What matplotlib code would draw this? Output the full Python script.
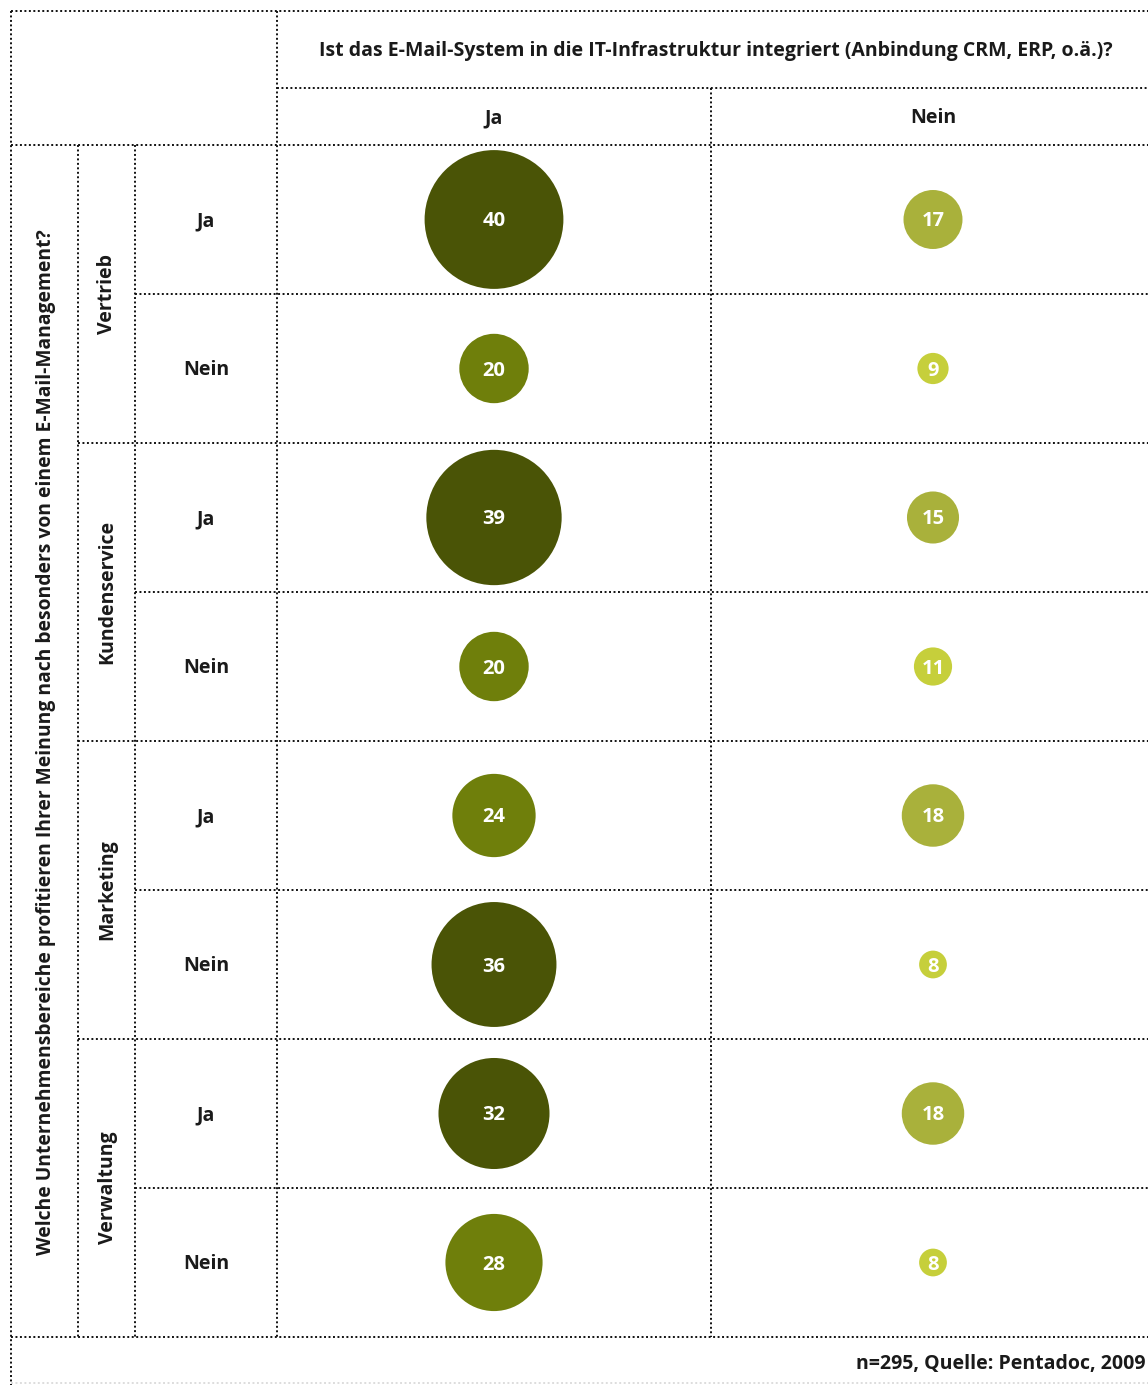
import matplotlib
matplotlib.use("Agg")
import matplotlib.pyplot as plt
from matplotlib.colors import ListedColormap, BoundaryNorm

# data
question_top = "Ist das E-Mail-System in die IT-Infrastruktur integriert (Anbindung CRM, ERP, o.ä.)?"
question_left = "Welche Unternehmensbereiche profitieren Ihrer Meinung nach besonders von einem E-Mail-Management?"
col_labels = ["Ja", "Nein"]
groups = ["Vertrieb", "Kundenservice", "Marketing", "Verwaltung"]
row_labels = ["Ja", "Nein"] * 4
vals_ja = [40, 20, 39, 20, 24, 36, 32, 28]
vals_nein = [17, 9, 15, 11, 18, 8, 18, 8]
footer = "n=295, Quelle: Pentadoc, 2009"

# layout in pixels
W, H = 1148, 1385
x_left, x_grp, x_row, x_c1, x_c2, x_right = 11, 78, 135, 277, 711, 1148
y_top, y_sub, y_head = 11, 88, 145
row_h = 149
y_bottom = y_head + 8 * row_h
col_x = [494, 933]

plt.rcParams['font.family'] = ['Open Sans', 'DejaVu Sans']
fig = plt.figure(figsize=(W / 100, H / 100), dpi=100)
ax = fig.add_axes([0, 0, 1, 1])
ax.set_xlim(0, W)
ax.set_ylim(H, 0)
ax.axis('off')

line_kw = dict(color='#111111', lw=1.4, linestyle=(0, (1, 1.3)), zorder=1)

def hline(y, x0, x1, **kw):
    k = dict(line_kw); k.update(kw)
    ax.plot([x0, x1], [y, y], **k)

def vline(x, y0, y1, **kw):
    k = dict(line_kw); k.update(kw)
    ax.plot([x, x], [y0, y1], **k)

# grid
hline(y_top, x_left, x_right)
hline(y_sub, x_c1, x_right)
hline(y_head, x_left, x_right)
for i in range(1, 8):
    y = y_head + i * row_h
    hline(y, x_grp if i % 2 == 0 else x_row, x_right)
hline(y_bottom, x_left, x_right)
hline(H - 2, x_left, x_right, color='#dddddd')
vline(x_left, y_top, H)
vline(x_grp, y_head, y_bottom)
vline(x_row, y_head, y_bottom)
vline(x_c1, y_top, y_bottom)
vline(x_c2, y_sub, y_bottom)

tkw = dict(fontweight='bold', color='#1a1a1a')

# header texts
ax.text(716, 51, question_top, ha='center', va='center', fontsize=14, **tkw)
for cx, lab in zip(col_x, col_labels):
    ax.text(cx, 118, lab, ha='center', va='center', fontsize=14, **tkw)

ax.text(46, 742, question_left, ha='center', va='center',
        rotation=90, fontsize=13.9, **tkw)
for g, name in enumerate(groups):
    ax.text((x_grp + x_row) / 2 + 1, y_head + (2 * g + 1) * row_h, name, ha='center', va='center',
            rotation=90, fontsize=14, **tkw)

row_y = [y_head + (i + 0.5) * row_h for i in range(8)]
for y, lab in zip(row_y, row_labels):
    ax.text((x_row + x_c1) / 2, y + 1.5, lab, ha='center', va='center', fontsize=14, **tkw)

# bubbles: diameter proportional to value
cmap = ListedColormap(['#c6cf3b', '#a9b13b', '#6f7f0b', '#4a5406'])
norm = BoundaryNorm([0, 12, 20, 30, 100], cmap.N)
px = 0.72  # points per pixel at dpi 100
for cx, vals in zip(col_x, [vals_ja, vals_nein]):
    sizes = [(3.47 * v * px) ** 2 for v in vals]
    ax.scatter([cx] * len(vals), row_y, s=sizes, c=vals, cmap=cmap, norm=norm,
               edgecolors='none', zorder=2)
    for y, v in zip(row_y, vals):
        ax.text(cx, y + 2, str(v), ha='center', va='center', color='white',
                fontsize=14.5, fontweight='bold', zorder=3)

ax.text(W - 3, 1364, footer, ha='right', va='center', fontsize=14, **tkw)

fig.savefig('out.png', dpi=100, facecolor='white')
